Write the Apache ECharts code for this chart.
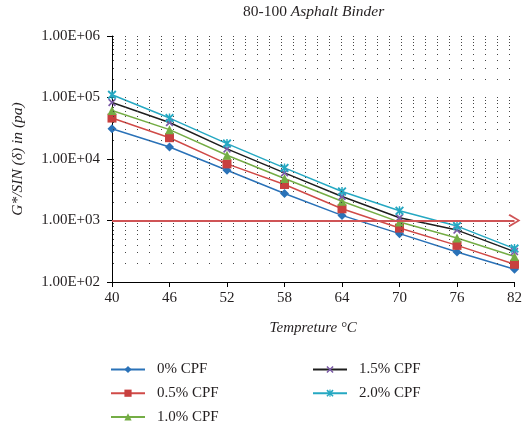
<!DOCTYPE html>
<html><head><meta charset="utf-8">
<script src="https://cdn.jsdelivr.net/npm/echarts@6/dist/echarts.min.js"></script>
<style>html,body{margin:0;padding:0;background:#fff}#c{width:525px;height:430px}</style>
</head><body><div id="c"></div>
<script>
var categories = ['40','46','52','58','64','70','76','82'];
var cpf0  = [31000, 15700, 6560, 2750, 1210, 611, 308, 161];
var cpf05 = [46300, 22200, 8320, 3850, 1550, 753, 394, 194];
var cpf10 = [61600, 30000, 11500, 4810, 2060, 942, 519, 259];
var cpf15 = [83000, 39300, 14600, 5950, 2460, 1110, 698, 312];
var cpf20 = [110600, 46300, 17800, 7170, 2960, 1440, 811, 349];
var seriesNames = ['0% CPF','0.5% CPF','1.0% CPF','1.5% CPF','2.0% CPF'];
var limitValue = 1000;
var minorGridValues = [];
[100, 1000, 10000, 100000].forEach(function (d) {
  for (var k = 2; k <= 9; k++) minorGridValues.push(k * d);
});

var FONT = 'Liberation Serif';
var X_PATH = 'path://M0,1.5L1.5,0L5,3.5L8.5,0L10,1.5L6.5,5L10,8.5L8.5,10L5,6.5L1.5,10L0,8.5L3.5,5Z';
var STAR_PATH = 'path://M0,1.5L1.5,0L5,3.5L8.5,0L10,1.5L6.5,5L10,8.5L8.5,10L5,6.5L1.5,10L0,8.5L3.5,5ZM4.2,0L5.8,0L5.8,10L4.2,10Z';
var dotted = {color: '#444', width: 1, type: [1, 11], dashOffset: 11};
var TXT = '#231f20';

function mk(name, data, lineColor, markColor, symbol, size) {
  return {
    name: name, type: 'line', data: data,
    symbol: symbol, symbolSize: size,
    lineStyle: {color: lineColor, width: 1.5},
    itemStyle: {color: markColor},
    emphasis: {disabled: true},
    z: 3
  };
}
var legendText = {fontFamily: FONT, fontSize: 15, color: TXT, lineHeight: 15, padding: [0, 0, 0, 7]};
function legendAt(names, left) {
  return {
    data: names, orient: 'vertical', left: left, top: 362, height: 80, padding: 0,
    itemWidth: 34, itemHeight: 9, itemGap: 8.7, textStyle: legendText
  };
}

var chart = echarts.init(document.getElementById('c'));
chart.setOption({
  animation: false,
  backgroundColor: '#fff',
  textStyle: {fontFamily: FONT},
  title: {
    text: '80-100 {i|Asphalt Binder}',
    left: 243, top: 4, padding: 0,
    textStyle: {fontFamily: FONT, fontSize: 15.5, fontWeight: 'normal', color: TXT,
      rich: {i: {fontFamily: FONT, fontSize: 15.5, fontStyle: 'italic', color: TXT}}}
  },
  legend: [legendAt(seriesNames.slice(0, 3), 110), legendAt(seriesNames.slice(3), 312)],
  grid: {left: 112, right: 10, top: 36, bottom: 148, containLabel: false},
  xAxis: {
    type: 'category', data: categories, boundaryGap: false,
    name: 'Tempreture °C', nameLocation: 'middle', nameGap: 39,
    nameTextStyle: {fontFamily: FONT, fontSize: 15, fontStyle: 'italic', color: TXT},
    axisLine: {lineStyle: {color: '#000', width: 1}},
    axisTick: {show: true, length: 5, alignWithLabel: true, lineStyle: {color: '#000'}},
    axisLabel: {fontFamily: FONT, fontSize: 15, color: TXT, margin: 9},
    splitLine: {show: false}
  },
  yAxis: {
    type: 'log', logBase: 10, min: 100, max: 1000000,
    name: 'G*/SIN (δ) in (pa)', nameLocation: 'middle', nameGap: 86,
    nameTextStyle: {fontFamily: FONT, fontSize: 15.5, fontStyle: 'italic', color: TXT},
    axisLine: {show: true, lineStyle: {color: '#000', width: 1}},
    axisTick: {show: true, length: 5, lineStyle: {color: '#000'}},
    axisLabel: {fontFamily: FONT, fontSize: 15, color: TXT, margin: 12,
      formatter: function (v) {
        var e = Math.round(Math.log10(v));
        return '1.00E+' + (e < 10 ? '0' : '') + e;
      }},
    splitLine: {show: true, lineStyle: dotted}
  },
  series: [
    mk(seriesNames[0], cpf0, '#2a72b8', '#2a72b8', 'diamond', 9),
    mk(seriesNames[1], cpf05, '#d04a47', '#c8403f', 'rect', 9),
    mk(seriesNames[2], cpf10, '#74ad45', '#74ad45', 'triangle', 9),
    mk(seriesNames[3], cpf15, '#1e1e1e', '#7a5aa6', X_PATH, 8),
    mk(seriesNames[4], cpf20, '#25a8c2', '#25a8c2', STAR_PATH, 9),
    {
      name: 'grid-minor', type: 'line', data: [], silent: true, z: 1,
      markLine: {
        silent: true, symbol: ['none', 'none'], label: {show: false},
        lineStyle: dotted, emphasis: {disabled: true},
        data: minorGridValues.map(function (v) { return {yAxis: v}; })
      }
    },
    {
      name: 'limit', type: 'line', data: [], silent: true, z: 5,
      markLine: {
        silent: true, symbol: ['none', 'path://M0,9L5,0L10,9L8.8,10L5,2.6L1.2,10Z'],
        symbolSize: [13, 12], label: {show: false},
        lineStyle: {color: '#cf5456', width: 2, type: 'solid'},
        emphasis: {disabled: true},
        data: [{yAxis: limitValue}]
      }
    }
  ]
});
</script></body></html>
